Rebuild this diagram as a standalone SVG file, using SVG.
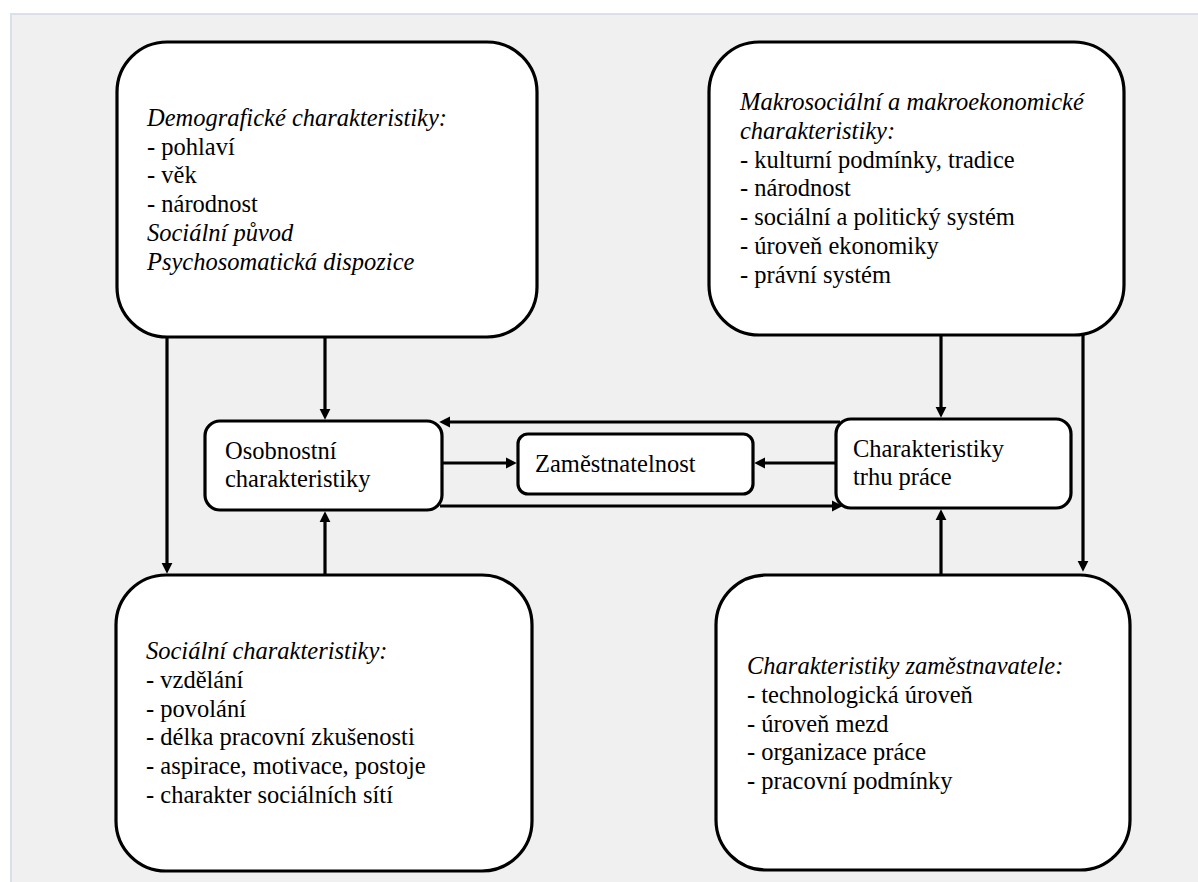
<svg xmlns="http://www.w3.org/2000/svg" width="1198" height="882" viewBox="0 0 1198 882">
<defs>
<style>
.box{fill:#fff;stroke:#000;stroke-width:3.2}
.c{fill:none;stroke:#000;stroke-width:3.2}
.t{font-size:24.5px;fill:#000}
.i{font-style:italic}
</style>
<marker id="ah" viewBox="0 0 10 10" refX="2" refY="5" markerWidth="11" markerHeight="12" markerUnits="userSpaceOnUse" orient="auto">
<path d="M0,0 L10,5 L0,10 z" fill="#000"/>
</marker>
</defs>
<rect x="0" y="0" width="1198" height="882" fill="#fff"/>
<rect x="11" y="14" width="1200" height="880" fill="#f0f0f0" stroke="#d9e0ea" stroke-width="2"/>

<g id="connectors">
<path class="c" d="M167,337 V565" marker-end="url(#ah)"/>
<path class="c" d="M325,337 V411" marker-end="url(#ah)"/>
<path class="c" d="M325,575 V520" marker-end="url(#ah)"/>
<path class="c" d="M941,335 V409" marker-end="url(#ah)"/>
<path class="c" d="M1083,335 V563" marker-end="url(#ah)"/>
<path class="c" d="M941,575 V518" marker-end="url(#ah)"/>
<path class="c" d="M840,422 H448" marker-end="url(#ah)"/>
<path class="c" d="M440,506 H834" marker-end="url(#ah)"/>
<path class="c" d="M442,463 H508" marker-end="url(#ah)"/>
<path class="c" d="M836,463 H763" marker-end="url(#ah)"/>
</g>

<g id="demograficke" class="t" font-family="Liberation Serif">
<rect class="box" x="117" y="42" width="420" height="295" rx="50"/>
<text x="147" y="126" class="i">Demografické charakteristiky:</text>
<text x="147" y="154.7">- pohlaví</text>
<text x="147" y="183.4">- věk</text>
<text x="147" y="212.1">- národnost</text>
<text x="147" y="240.8" class="i">Sociální původ</text>
<text x="147" y="269.5" class="i">Psychosomatická dispozice</text>
</g>

<g id="makro" class="t" font-family="Times New Roman">
<rect class="box" x="709" y="42" width="415" height="293" rx="50"/>
<text x="740" y="110" class="i">Makrosociální a makroekonomické</text>
<text x="740" y="138.8" class="i">charakteristiky:</text>
<text x="740" y="167.6">- kulturní podmínky, tradice</text>
<text x="740" y="196.4">- národnost</text>
<text x="740" y="225.2">- sociální a politický systém</text>
<text x="740" y="254">- úroveň ekonomiky</text>
<text x="740" y="282.8">- právní systém</text>
</g>

<g id="osobnostni" class="t" font-family="serif">
<rect class="box" x="205" y="421" width="237" height="89" rx="15"/>
<text x="225" y="459">Osobnostní</text>
<text x="225" y="487">charakteristiky</text>
</g>

<g id="zamestnatelnost" class="t" font-family="Liberation Serif">
<rect class="box" x="518" y="434" width="235" height="60" rx="10"/>
<text x="535" y="472">Zaměstnatelnost</text>
</g>

<g id="trh" class="t" style="font-family:'Liberation Serif'">
<rect class="box" x="836" y="419" width="235" height="89" rx="15"/>
<text x="853" y="457">Charakteristiky</text>
<text x="853" y="485">trhu práce</text>
</g>

<g id="socialni" class="t" font-family="Times New Roman">
<rect class="box" x="116" y="575" width="416" height="296" rx="50"/>
<text x="146" y="659" class="i">Sociální charakteristiky:</text>
<text x="146" y="687.8">- vzdělání</text>
<text x="146" y="716.6">- povolání</text>
<text x="146" y="745.4">- délka pracovní zkušenosti</text>
<text x="146" y="774.2">- aspirace, motivace, postoje</text>
<text x="146" y="803">- charakter sociálních sítí</text>
</g>

<g id="zamestnavatel" class="t" font-family="Liberation Serif, serif">
<rect class="box" x="716" y="575" width="414" height="295" rx="50"/>
<text x="747" y="674" class="i">Charakteristiky zaměstnavatele:</text>
<text x="747" y="702.8">- technologická úroveň</text>
<text x="747" y="731.6">- úroveň mezd</text>
<text x="747" y="760.4">- organizace práce</text>
<text x="747" y="789.2">- pracovní podmínky</text>
</g>
</svg>
